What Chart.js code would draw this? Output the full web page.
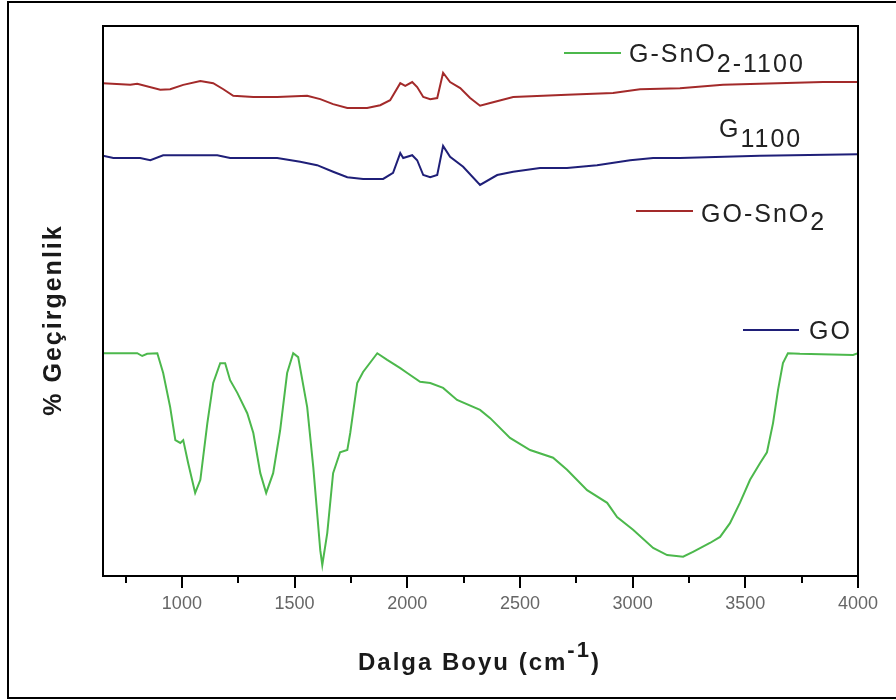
<!DOCTYPE html>
<html>
<head>
<meta charset="utf-8">
<title>FTIR</title>
<script src="https://cdn.jsdelivr.net/npm/chart.js@4.4.1/dist/chart.umd.min.js"></script>
<style>
  body { margin: 0; background: #fff; }
  canvas { display: block; }
</style>
</head>
<body>
<canvas id="ftir_chart" width="896" height="700"></canvas>
<script>
// wavenumber (cm-1) and % transmittance (stacked, arbitrary offset)
const goSnO2Wave = [650, 771, 802, 904, 948, 1006, 1082, 1139, 1184, 1228, 1317, 1423, 1556, 1614, 1671, 1734, 1822, 1880, 1924, 1969,
    1991, 2022, 2044, 2071, 2102, 2133, 2159, 2190, 2235, 2279, 2323, 2368, 2470, 2709, 2913, 3033, 3210, 3401, 3845, 4000];
const goSnO2Trans = [89.6, 89.3, 89.5, 88.4, 88.5, 89.3, 90.0, 89.6, 88.5, 87.3, 87.1, 87.1, 87.3, 86.7, 85.8, 85.1, 85.1, 85.6, 86.5, 89.6,
    89.1, 89.8, 88.9, 87.1, 86.7, 86.9, 91.5, 89.8, 88.7, 86.9, 85.5, 86.0, 87.1, 87.5, 87.8, 88.5, 88.7, 89.3, 89.8, 89.8];

const goWave = [650, 696, 815, 860, 917, 1157, 1214, 1423, 1525, 1600, 1671, 1734, 1804, 1893, 1937, 1969, 1982, 2022, 2044, 2071,
    2102, 2133, 2159, 2190, 2248, 2323, 2399, 2470, 2589, 2709, 2842, 2989, 3091, 3210, 3565, 4000];
const goTrans = [76.4, 76.0, 76.0, 75.6, 76.5, 76.5, 76.0, 76.0, 75.3, 74.7, 73.5, 72.5, 72.2, 72.2, 73.3, 76.9, 76.0, 76.5, 75.6, 72.9,
    72.5, 72.9, 78.2, 76.2, 74.4, 71.1, 72.9, 73.5, 74.2, 74.2, 74.7, 75.6, 76.0, 76.0, 76.4, 76.7];

const gSnO2Wave = [650, 802, 824, 846, 891, 917, 948, 971, 993, 1006, 1028, 1059, 1082, 1113, 1139, 1170, 1192, 1214, 1246, 1290,
    1317, 1348, 1374, 1405, 1436, 1467, 1494, 1516, 1556, 1583, 1614, 1623, 1645, 1671, 1702, 1734, 1747, 1778, 1804, 1867,
    1911, 1969, 2000, 2057, 2102, 2159, 2221, 2323, 2368, 2456, 2545, 2647, 2709, 2798, 2887, 2931, 3002, 3091, 3153, 3224,
    3268, 3343, 3388, 3432, 3476, 3521, 3565, 3596, 3623, 3645, 3667, 3689, 3742, 3978, 4000];
const gSnO2Trans = [40.5, 40.5, 40.0, 40.4, 40.5, 36.9, 30.7, 24.7, 24.2, 24.7, 20.5, 15.1, 17.5, 27.8, 35.1, 38.7, 38.7, 35.6, 33.3, 29.6,
    26.0, 18.7, 15.1, 18.7, 26.5, 36.9, 40.5, 39.8, 30.7, 19.8, 4.7, 2.0, 7.8, 18.7, 22.5, 22.9, 26.0, 35.1, 37.1, 40.5,
    39.3, 37.8, 36.9, 35.3, 35.1, 34.2, 32.0, 30.2, 28.7, 25.1, 22.9, 21.5, 19.3, 15.6, 13.3, 10.7, 8.4, 5.1, 3.8, 3.5,
    4.4, 6.0, 7.1, 9.6, 13.3, 17.5, 20.5, 22.5, 27.8, 33.8, 38.7, 40.5, 40.4, 40.2, 40.5];

const seriesNames = ["GO-SnO2", "GO", "G-SnO2-1100"];
const majorTicks = [1000, 1500, 2000, 2500, 3000, 3500, 4000];
const minorTicks = [750, 1250, 1750, 2250, 2750, 3250, 3750];
// legend texts as printed on the figure: [main, subscript]
const legendLabels = [["G-SnO", "2-1100"], ["G", "1100"], ["GO-SnO", "2"], ["GO", ""]];
const xTitle = ["Dalga Boyu (cm", "-1", ")"];
const yTitle = "% Geçirgenlik";

const FONT = '"Liberation Sans", Arial, sans-serif';

function toPoints(xs, ys) {
    return xs.map(function(x, i) { return {x: x, y: ys[i]}; });
}

function drawPieces(ctx, x, y, pieces) {
    pieces.forEach(function(p) {
        if (!p.text) return;
        ctx.font = p.font;
        ctx.fillText(p.text, x, y + p.dy);
        x += ctx.measureText(p.text).width;
    });
}

// frame, minor ticks, axis titles and the odd legend of the original
const decorations = {
    id: "decorations",
    beforeDraw: function(chart) {
        const ctx = chart.ctx;
        ctx.save();
        ctx.fillStyle = "#fff";
        ctx.fillRect(0, 0, chart.width, chart.height);
        ctx.restore();
    },
    afterDraw: function(chart) {
        const ctx = chart.ctx;
        const a = chart.chartArea;
        const xs = chart.scales.x;
        const sets = chart.data.datasets;
        ctx.save();
        ctx.strokeStyle = "#000";
        ctx.lineWidth = 2;
        ctx.strokeRect(8, 2, 900, 696);
        ctx.strokeRect(a.left, a.top, a.right - a.left, a.bottom - a.top);

        ctx.beginPath();
        minorTicks.forEach(function(v) {
            const px = Math.round(xs.getPixelForValue(v));
            ctx.moveTo(px, a.bottom);
            ctx.lineTo(px, a.bottom + 7);
        });
        ctx.stroke();

        ctx.fillStyle = "#222";
        ctx.textAlign = "left";
        ctx.textBaseline = "alphabetic";

        // legend
        const pos = [
            {x1: 564, x2: 621, ly: 53, tx: 629, ty: 62, sub: 10, ds: 2},
            {tx: 719, ty: 137, sub: 10, ds: -1},
            {x1: 636, x2: 693, ly: 211, tx: 701, ty: 222, sub: 8, ds: 0},
            {x1: 743, x2: 799, ly: 330, tx: 809, ty: 339, sub: 0, ds: 1}
        ];
        ctx.letterSpacing = "2px";
        pos.forEach(function(p, i) {
            if (p.ds >= 0) {
                ctx.strokeStyle = sets[p.ds].borderColor;
                ctx.lineWidth = 2;
                ctx.beginPath();
                ctx.moveTo(p.x1, p.ly);
                ctx.lineTo(p.x2, p.ly);
                ctx.stroke();
            }
            drawPieces(ctx, p.tx, p.ty, [
                {text: legendLabels[i][0], font: "25px " + FONT, dy: 0},
                {text: legendLabels[i][1], font: "25px " + FONT, dy: p.sub}
            ]);
        });

        // x title
        ctx.fillStyle = "#1a1a1a";
        ctx.letterSpacing = "2px";
        drawPieces(ctx, 358, 670, [
            {text: xTitle[0], font: "bold 24px " + FONT, dy: 0},
            {text: xTitle[1], font: "bold 22px " + FONT, dy: -13},
            {text: xTitle[2], font: "bold 24px " + FONT, dy: 0}
        ]);

        // y title
        ctx.letterSpacing = "2px";
        ctx.translate(61, 320);
        ctx.rotate(-Math.PI / 2);
        ctx.textAlign = "center";
        ctx.font = "bold 25px " + FONT;
        ctx.fillText(yTitle, 0, 0);
        ctx.restore();
    }
};

document.addEventListener("DOMContentLoaded", function() {
    const ftirChart = document.getElementById("ftir_chart").getContext("2d");
    new Chart(ftirChart, {
        type: "line",
        data: {
            datasets: [{
                label: seriesNames[0],
                data: toPoints(goSnO2Wave, goSnO2Trans),
                borderColor: "#a32a2a",
                borderWidth: 2
            }, {
                label: seriesNames[1],
                data: toPoints(goWave, goTrans),
                borderColor: "#1f1f78",
                borderWidth: 2
            }, {
                label: seriesNames[2],
                data: toPoints(gSnO2Wave, gSnO2Trans),
                borderColor: "#4cb84c",
                borderWidth: 2
            }]
        },
        options: {
            responsive: false,
            animation: false,
            devicePixelRatio: 1,
            layout: {
                padding: {left: 103, right: 38, top: 26, bottom: 0}
            },
            elements: {
                point: {radius: 0},
                line: {tension: 0, fill: false}
            },
            plugins: {
                legend: {display: false},
                tooltip: {enabled: false}
            },
            scales: {
                x: {
                    type: "linear",
                    min: 650,
                    max: 4000,
                    afterBuildTicks: function(scale) {
                        scale.ticks = majorTicks.map(function(v) { return {value: v}; });
                    },
                    afterFit: function(scale) {
                        scale.height = 124;
                        scale.paddingLeft = 0;
                        scale.paddingRight = 0;
                    },
                    border: {display: false},
                    grid: {
                        display: true,
                        drawOnChartArea: false,
                        drawTicks: true,
                        tickLength: 12,
                        tickWidth: 2,
                        tickColor: "#000",
                        color: "#000",
                        lineWidth: 2
                    },
                    ticks: {
                        padding: 5,
                        maxRotation: 0,
                        autoSkip: false,
                        color: "#666",
                        font: {family: FONT, size: 18},
                        callback: function(value) { return String(value); }
                    }
                },
                y: {
                    display: false,
                    min: 0,
                    max: 100
                }
            }
        },
        plugins: [decorations]
    });
});
</script>
</body>
</html>
